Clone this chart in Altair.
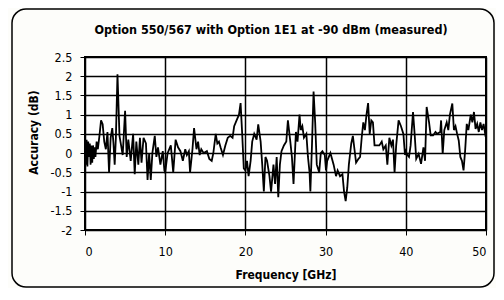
import altair as alt
import pandas as pd

freq = [0.0, 0.1, 0.2, 0.3, 0.4, 0.5, 0.6, 0.7, 0.8, 0.9, 1.0, 1.1, 1.2, 1.3, 1.45, 1.6, 1.8,
        2.0, 2.2, 2.4, 2.6, 2.8, 3.0, 3.2, 3.4, 3.55, 3.7, 3.85, 4.05, 4.3, 4.5, 4.7, 5.0, 5.2,
        5.4, 5.7, 6.0, 6.2, 6.4, 6.65, 6.85, 7.05, 7.3, 7.6, 7.8, 8.0, 8.2, 8.4, 8.7, 8.9, 9.1,
        9.4, 9.7, 9.9, 10.0,
        10.3, 10.7, 11.0, 11.3, 11.6, 11.9, 12.2, 12.5, 12.7, 12.95, 13.1, 13.4, 13.6, 13.9,
        14.1, 14.3, 14.5, 14.8, 15.2, 15.5, 15.8, 16.0, 16.3, 16.5, 16.7, 16.9, 17.2, 17.5,
        17.8, 18.1, 18.4, 18.6, 18.9, 19.2, 19.4, 19.6, 19.8,
        20.0, 20.2, 20.4, 20.65, 20.85, 21.1, 21.4, 21.6, 21.9, 22.1, 22.3, 22.5, 22.7, 23.0,
        23.2, 23.5, 23.7, 23.9, 24.1, 24.3, 24.5, 24.8, 25.1, 25.3, 25.6, 25.8, 26.0, 26.3,
        26.5, 26.75, 26.9, 27.1, 27.3, 27.6, 27.8, 28.0, 28.1, 28.3, 28.5, 28.7, 28.9, 29.2,
        29.4, 29.6, 29.9,
        30.05, 30.2, 30.6, 31.0, 31.3, 31.5, 31.8, 32.1, 32.3, 32.5, 32.7, 32.9, 33.2, 33.4,
        33.6, 33.8, 34.1, 34.3, 34.5, 34.7, 34.9, 35.1, 35.3, 35.5, 35.7, 35.9, 36.1, 36.4,
        36.7, 37.0, 37.2, 37.5, 37.7, 37.95, 38.2, 38.4, 38.6, 38.8, 39.1, 39.4, 39.7, 39.9,
        40.0, 40.2, 40.4, 40.6, 40.9, 41.1, 41.3, 41.6, 41.9, 42.2, 42.4, 42.6, 42.9, 43.1,
        43.4, 43.7, 43.9, 44.3, 44.4, 44.6, 44.8, 45.1, 45.3, 45.5, 45.8, 46.0, 46.2, 46.4,
        46.6, 46.8, 47.0, 47.2, 47.4, 47.6, 47.8, 48.1, 48.3, 48.5, 48.7, 48.9, 49.1, 49.3,
        49.5, 49.7, 49.9, 50.0]

accuracy = [0.2, -0.3, 0.35, -0.35, 0.3, -0.1, 0.25, -0.3, 0.2, -0.25, 0.2, -0.15, 0.15, -0.1,
            0.3, 0.1, 0.45, 0.85, 0.75, 0.3, 0.1, 0.55, -0.5, 0.4, 0.65, 0.25, -0.3, 0.4, 2.05,
            0.45, 0.2, -0.05, 1.1, -0.1, 0.35, -0.2, 0.5, -0.55, 0.3, -0.3, 0.4, -0.25, 0.4,
            0.25, -0.7, 0.0, -0.7, 0.0, 0.45, -0.1, 0.15, -0.3, 0.05, -0.45, -0.5,
            0.0, 0.2, -0.5, 0.35, 0.15, 0.05, -0.2, 0.1, -0.05, 0.05, -0.5, 0.1, 0.65, 0.1,
            0.3, -0.05, 0.1, 0.0, 0.05, -0.15, -0.2, 0.0, 0.5, 0.25, 0.3, 0.15, -0.05, 0.2,
            0.4, 0.45, 0.4, 0.7, 0.85, 1.0, 1.3, 0.5, -0.4,
            -0.45, -0.2, -0.6, -0.2, 0.3, 0.5, 0.35, 0.75, 0.3, -0.3, -1.0, -0.1, -0.2, -0.6,
            -1.0, -0.3, -0.8, -0.1, -1.15, -0.3, 0.05, 0.2, 0.3, 0.85, 0.3, -0.1, -0.8, 0.55,
            0.3, 1.0, 0.6, 0.7, 0.4, 0.5, -0.1, -0.5, -1.0, 0.2, 1.6, 0.8, -0.3, -0.5,
            0.0, 0.05, -0.05,
            -0.45, -0.2, 0.0, -0.3, -0.6, -0.45, -0.6, -0.55, -1.0, -1.25, -0.9, -0.3, 0.25, 0.45,
            0.1, -0.25, -0.15, -0.1, 0.4, 0.8, 0.6, 1.0, 1.3, 0.5, 0.85, 0.8, 0.2, 0.2,
            0.2, 0.3, 0.1, 0.2, -0.3, 0.4, 0.2, 0.35, -0.5, 0.2, 0.85, 0.7, 0.5, -0.05,
            0.05, -0.05, -0.1, 0.2, 1.07, 0.5, -0.15, -0.02, -0.28, 0.15, -0.2, 1.2, 0.8, 0.46,
            0.46, 0.55, 0.5, 0.55, 0.85, -0.02, 0.6, 0.8, 0.6, 1.0, 1.29, 0.6, 0.7, 0.5,
            0.33, -0.1, -0.2, -0.45, 0.07, 0.76, 0.6, 1.0, 0.8, 1.07, 0.63, 0.76, 0.55, 0.8,
            0.6, 0.76, 0.5, 0.55]

x_ticks = [0, 10, 20, 30, 40, 50]
y_ticks = [-2, -1.5, -1, -0.5, 0, 0.5, 1, 1.5, 2, 2.5]
title_text = "Option 550/567 with Option 1E1 at -90 dBm (measured)"
x_title = "Frequency [GHz]"
y_title = "Accuracy (dB)"

FONT = "Liberation Sans Narrow, DejaVu Sans Condensed, sans-serif"

df = pd.DataFrame({"f": freq, "a": accuracy})
one = pd.DataFrame({"t": [title_text]})

frame = alt.Chart(one).mark_rect(
    fill="transparent", stroke="black", strokeWidth=1.5, cornerRadius=14
).encode(
    x=alt.value(-73), x2=alt.value(409), y=alt.value(-48), y2=alt.value(230)
)

title = alt.Chart(one).mark_text(
    font=FONT, fontSize=12.5, fontWeight="bold", color="black",
    align="center", baseline="alphabetic"
).encode(
    text="t:N", x=alt.value(186), y=alt.value(-23)
)

line = alt.Chart(df).mark_line(color="black", strokeWidth=1.8).encode(
    x=alt.X("f:Q", scale=alt.Scale(domain=[0, 50], nice=False, zero=False),
            axis=alt.Axis(values=x_ticks, title=x_title, grid=True,
                          labelExpr="toString(datum.value)", labelPadding=10,
                          titleY=48, titleBaseline="alphabetic")),
    y=alt.Y("a:Q", scale=alt.Scale(domain=[-2, 2.5], nice=False, zero=False),
            axis=alt.Axis(values=y_ticks, title=y_title, grid=True,
                          labelExpr="toString(datum.value)", labelPadding=8,
                          titleX=-52, titleY=75, titleAngle=270,
                          titleBaseline="middle", titleAlign="center")),
)

chart = alt.layer(frame, line, title).properties(
    width=401, height=173,
    autosize=alt.AutoSizeParams(type="none"),
    padding={"left": 77, "top": 49, "right": 10, "bottom": 58},
    background="#fdfdfa",
).configure_view(
    stroke="black", strokeWidth=2, fill="white"
).configure_axis(
    domain=False,
    gridColor="black", gridWidth=1.5, gridOpacity=1,
    tickColor="black", tickSize=5, tickWidth=1,
    labelFont=FONT, labelFontSize=12.5, labelColor="black",
    titleFont=FONT, titleFontSize=12, titleFontWeight="bold", titleColor="black",
)

chart.save("out.html", embed_options={"renderer": "svg", "actions": False})
